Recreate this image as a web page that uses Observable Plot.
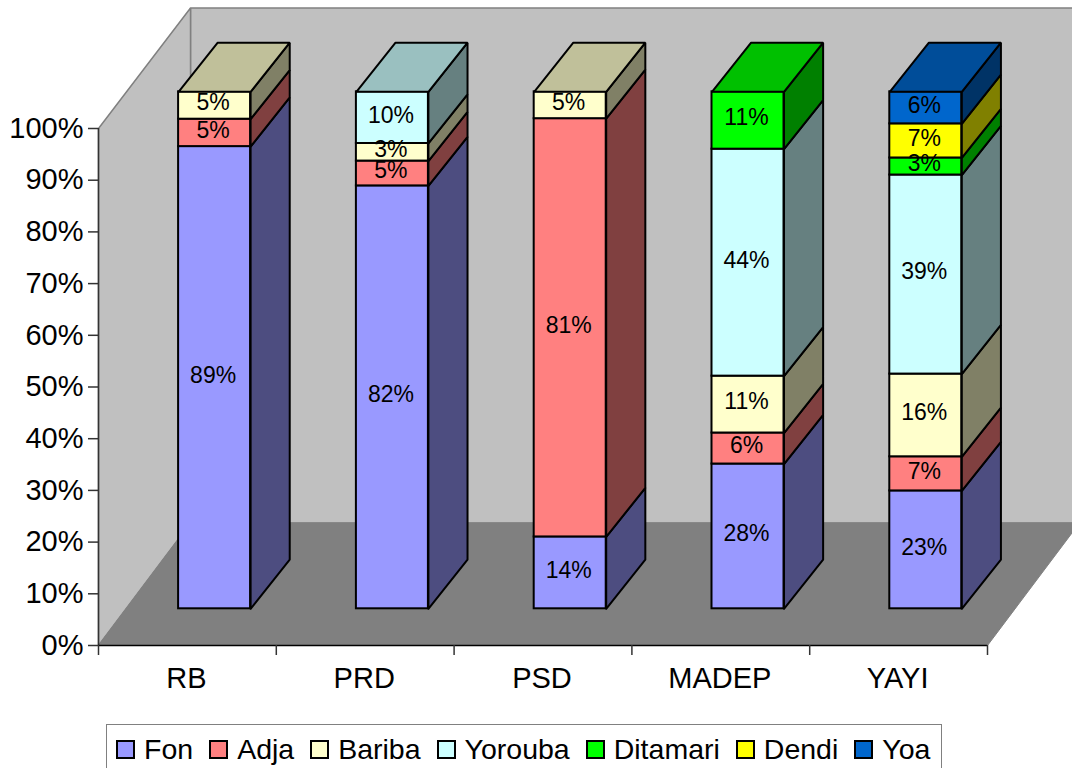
<!DOCTYPE html>
<html>
<head>
<meta charset="utf-8">
<script src="https://cdn.jsdelivr.net/npm/d3@7"></script>
<script src="https://cdn.jsdelivr.net/npm/@observablehq/plot@0.6"></script>
<style>
html,body{margin:0;padding:0;background:#fff;overflow:hidden;height:768px;width:1072px}
#legend{box-sizing:border-box;margin-left:106px;width:836px;height:60px;border:1.5px solid #808080;display:flex;align-items:flex-start;padding:7px 0 0 9px;font:28.5px "Liberation Sans",Arial,sans-serif;color:#000;line-height:34px}
#legend .it{display:flex;align-items:center;margin-right:16px;white-space:nowrap}
#legend .sw{width:15px;height:15px;border:2px solid #000;margin-right:9px;display:inline-block;box-sizing:content-box}
</style>
</head>
<body>
<div id="chart"></div>
<div id="legend"></div>
<script>
const categories = ["RB", "PRD", "PSD", "MADEP", "YAYI"];
const seriesNames = ["Fon", "Adja", "Bariba", "Yorouba", "Ditamari", "Dendi", "Yoa"];
const fon      = [89.4, 81.8, 13.9, 28.0, 22.8];
const adja     = [5.3, 4.8, 80.9, 6.0, 6.6];
const bariba   = [5.3, 3.4, 5.2, 11.0, 16.0];
const yorouba  = [0, 10.0, 0, 43.9, 38.5];
const ditamari = [0, 0, 0, 11.1, 3.3];
const dendi    = [0, 0, 0, 0, 6.6];
const yoa      = [0, 0, 0, 0, 6.2];
const seriesValues = [fon, adja, bariba, yorouba, ditamari, dendi, yoa];

const frontColors = ["#9999FF", "#FF8080", "#FFFFCC", "#CCFFFF", "#00FF00", "#FFFF00", "#0066CC"];
const sideColors  = ["#4D4D80", "#804040", "#808066", "#668080", "#008000", "#808000", "#003366"];
const topColors   = ["#7373C0", "#C06060", "#C0C09A", "#9AC0C0", "#00C000", "#C0C000", "#004D99"];

// Oblique projection expressed in data units
const wallDx = 0.5175, wallDy = 23.7, wallTopDy = 23.3; // depth of the chart box
const baseDx = 0.152, baseDy = 7.1;     // bar front plane relative to axis plane
const barDx = 0.22, barDy = 9.5;        // depth of one bar
const barStart = 0.2985, barWidth = 0.405;

const segments = [];
categories.forEach((cat, i) => {
  let acc = 0;
  const visible = seriesValues.map((s, k) => ({k, v: s[i]})).filter(d => d.v > 0);
  visible.forEach((d, n) => {
    const x1 = i + barStart + baseDx, x2 = x1 + barWidth;
    const y1 = acc + baseDy, y2 = y1 + d.v;
    segments.push({id: `${i}-${d.k}`, i, k: d.k, v: d.v, x1, x2, y1, y2, last: n === visible.length - 1});
    acc += d.v;
  });
});

const poly = (id, fill, pts) => [...pts, pts[0]].map(([x, y]) => ({id, fill, x, y}));
const sides = segments.flatMap(s => poly("s" + s.id, sideColors[s.k], [
  [s.x2, s.y1], [s.x2 + barDx, s.y1 + barDy], [s.x2 + barDx, s.y2 + barDy], [s.x2, s.y2]
]));
const tops = segments.filter(s => s.last).flatMap(s => poly("t" + s.id, topColors[s.k], [
  [s.x1, s.y2], [s.x2, s.y2], [s.x2 + barDx, s.y2 + barDy], [s.x1 + barDx, s.y2 + barDy]
]));
const n = categories.length;
const leftWall = poly("lw", "#C0C0C0", [[0, 0], [0, 100], [wallDx, 100 + wallTopDy], [wallDx, wallDy]]);
const backWall = poly("bw", "#C0C0C0", [[wallDx, wallDy], [wallDx, 100 + wallTopDy], [n + wallDx, 100 + wallTopDy], [n + wallDx, wallDy]]);
const floor = poly("fl", "#808080", [[0, 0], [wallDx, wallDy], [n + wallDx, wallDy], [n, 0]]);

const face = (data, stroke, width) => Plot.line(data, {x: "x", y: "y", z: "id", fill: "fill", stroke, strokeWidth: width, strokeLinejoin: "miter"});

const chart = Plot.plot({
  width: 1072, height: 724,
  marginLeft: 98, marginRight: 85, marginTop: 128, marginBottom: 79,
  x: {domain: [0, n], axis: null},
  y: {domain: [0, 100], axis: null},
  style: {fontFamily: '"Liberation Sans", Arial, sans-serif', overflow: "hidden", background: "#fff", color: "#000"},
  marks: [
    face(backWall, "#808080", 1.5),
    face(leftWall, "#808080", 1.5),
    face(floor, "#808080", 1),
    Plot.rect(segments, {x1: "x1", x2: "x2", y1: "y1", y2: "y2", fill: d => frontColors[d.k], stroke: "#000", strokeWidth: 2}),
    face(sides, "#000", 2),
    face(tops, "#000", 2),
    Plot.text(segments, {x: d => (d.x1 + d.x2) / 2, y: d => (d.y1 + d.y2) / 2, text: d => Math.round(d.v) + "%", fontSize: 23, fill: "#000", dx: -1.5, dy: -2.5}),
    Plot.axisY({ticks: d3.range(0, 101, 10), tickFormat: d => d + "%", tickSize: 10, tickPadding: 5, fontSize: 29, label: null, strokeWidth: 1.5, stroke: "#333"}),
    Plot.ruleX([0], {y1: 0, y2: 100, stroke: "#333", strokeWidth: 1.5}),
    Plot.ruleY([0], {x1: 0, x2: n, stroke: "#000", strokeWidth: 1.5}),
    Plot.axisX({ticks: d3.range(0, n + 1), tickFormat: () => "", tickSize: 10, label: null, strokeWidth: 1.5, stroke: "#333"}),
    Plot.axisX({ticks: d3.range(0, n).map(d => d + 0.5), tickFormat: d => categories[Math.floor(d)], tickSize: 0, tickPadding: 22, fontSize: 29, label: null, dx: -1})
  ]
});
document.getElementById("chart").appendChild(chart);
chart.style.display = "block";

const legend = document.getElementById("legend");
seriesNames.forEach((name, k) => {
  const it = document.createElement("span"); it.className = "it";
  const sw = document.createElement("span"); sw.className = "sw"; sw.style.background = frontColors[k];
  it.appendChild(sw); it.appendChild(document.createTextNode(name));
  legend.appendChild(it);
});
</script>
</body>
</html>
